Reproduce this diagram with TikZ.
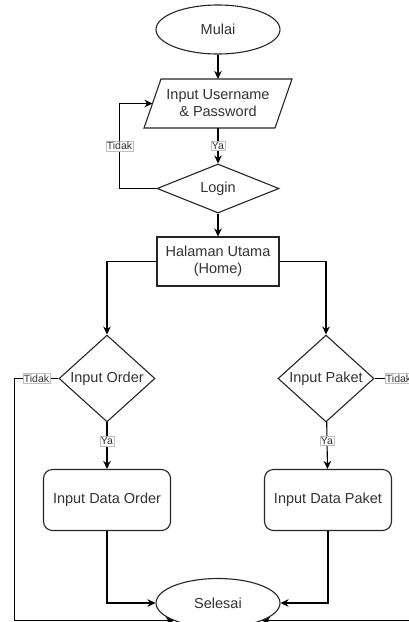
\documentclass[tikz,border=0pt]{standalone}
\usepackage{fontspec}
\setmainfont{Liberation Sans}
\usetikzlibrary{shapes.geometric,arrows.meta}
\begin{document}
\begin{tikzpicture}[x=1pt,y=-1pt,
  base/.style={draw=black!85, line width=1.1pt, text=black!80, font=\fontsize{14.5}{17}\selectfont, align=center, inner sep=0pt},
  term/.style={base, ellipse, minimum width=124pt, minimum height=49pt},
  dec/.style={base, diamond, minimum width=96pt, minimum height=85pt},
  proc/.style={base, rectangle, minimum width=122pt, minimum height=49pt},
  rproc/.style={base, rectangle, rounded corners=9pt, minimum width=127pt, minimum height=61pt},
  io/.style={base, draw=none, outer sep=0pt, minimum width=131pt, minimum height=49pt},
  conn/.style={draw=black, line width=1.1pt},
  arr/.style={conn, -{Stealth[length=8pt,width=7.5pt,inset=2.5pt]}},
  lbl/.style={fill=white, draw=black!25, line width=0.4pt, text=black!80, font=\fontsize{10.5}{12}\selectfont, inner sep=1pt}]
\clip (0,0) rectangle (409,622);
\fill[white] (0,0) rectangle (409,622);
% nodes
\node[term] (mulai) at (218,29.5) {Mulai};
\node[io] (inp) at (218,103.5) {Input Username\\\& Password};
\draw[base] ([xshift=-8.5pt]inp.south west) -- ([xshift=8.5pt]inp.north west) -- ([xshift=8.5pt]inp.north east) -- ([xshift=-8.5pt]inp.south east) -- cycle;
\node[base, diamond, minimum width=122pt, minimum height=47pt] (login) at (218,188.5) {Login};
\node[proc] (home) at (218,261.5) {Halaman Utama\\(Home)};
\node[dec] (order) at (107,378.5) {Input Order};
\node[dec] (paket) at (326,378.5) {Input Paket};
\node[rproc] (dorder) at (107,500) {Input Data Order};
\node[rproc] (dpaket) at (328,500) {Input Data Paket};
\node[term] (selesai) at (218,603) {Selesai};
% connectors
\draw[arr] (mulai) -- (inp);
\draw[arr] (inp) -- node[lbl]{Ya} (login);
\draw[arr] (login.west) -- ++(-37,0) |- node[lbl,pos=0.25]{Tidak} (inp.west);
\draw[arr] (login) -- (home);
\draw[arr] (home.west) -| (order.north);
\draw[arr] (home.east) -| (paket.north);
\draw[arr] (order) -- node[lbl,pos=0.4]{Ya} (dorder);
\draw[arr] (paket) -- node[lbl,pos=0.4]{Ya} (dpaket);
\draw[arr] (dorder.south) |- (selesai.west);
\draw[arr] (dpaket.south) |- (selesai.east);
\draw[arr] (order.west) -- node[lbl]{Tidak} ++(-44,0) |- (selesai.south west);
\draw[arr] (paket.east) -- node[lbl]{Tidak} ++(48,0) |- (selesai.south east);
\end{tikzpicture}
\end{document}
